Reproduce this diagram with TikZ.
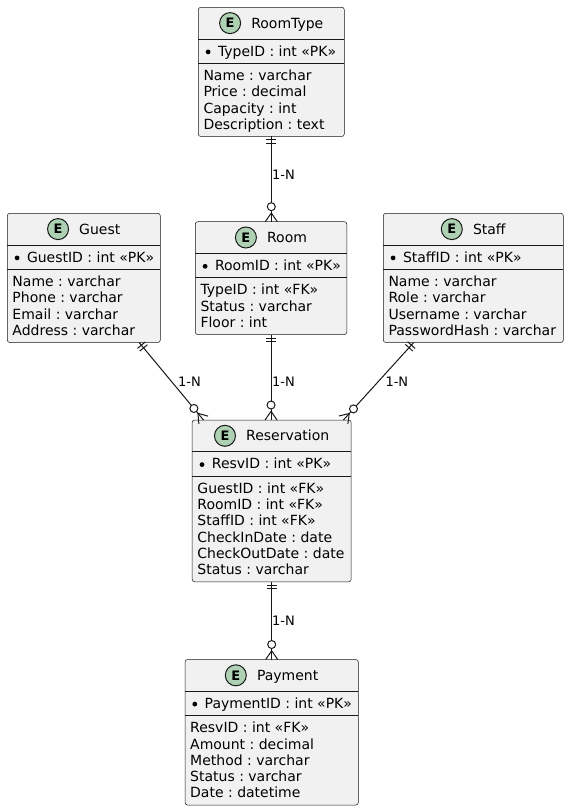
\documentclass[tikz,border=0pt]{standalone}
\usepackage{fontspec}
\setmainfont{DejaVu Sans}
\usetikzlibrary{calc}
\frenchspacing
\definecolor{boxfill}{HTML}{F1F1F1}
\definecolor{boxline}{HTML}{181818}
\definecolor{egreen}{HTML}{ADD1B2}
\tikzset{
 ebox/.style={rectangle, draw=boxline, line width=0.5pt, fill=boxfill, rounded corners=2.5pt, inner sep=0pt, outer sep=0pt},
 hsep/.style={draw=boxline, line width=0.5pt},
 pksep/.style={draw=boxline, line width=1pt},
 etitle/.style={inner sep=0pt, font=\fontsize{14}{16.3}\selectfont\frenchspacing, anchor=base},
 ecirc/.style={circle, draw=boxline, line width=1pt, fill=egreen, minimum size=21pt, inner sep=0pt, font=\fontsize{13}{15}\selectfont\bfseries},
 attr/.style={inner sep=0pt, font=\fontsize{14}{16.3}\selectfont\frenchspacing, anchor=base west},
 lbl/.style={inner sep=0pt, font=\fontsize{13}{15}\selectfont, anchor=west},
 rel/.style={draw=boxline, line width=1pt},
}
\newcommand\entity[8]{%
 \pgfmathsetmacro\eH{64+#7*16.3}%
 \node[ebox, minimum width=#4pt, minimum height=\eH pt, anchor=north west] (#1) at (#2,#3) {};
 \draw[hsep] ($(#1.north west)+(0,31.7)$) -- ($(#1.north east)+(0,31.7)$);
 \draw[pksep] ($(#1.north west)+(0,56)$) -- ($(#1.north east)+(0,56)$);
 \node[etitle] (#1t) at ($(#1.north)+(0,20.9)$) {\hspace*{32pt}#5};
 \node[ecirc] (#1e) at ($(#1t.base west)+(11,-5.1)$) {E};
 \fill[black] ($(#1.north west)+(9.8,44.6)$) circle[radius=2.4pt];
 \node[attr] (#1k) at ($(#1.north west)+(19.5,48.8)$) {#6};
 \foreach \txt [count=\i] in {#8} {
   \node[attr] (#1a\i) at ($(#1.north west)+(5,{68.2+(\i-1)*16.3+5})$) {\txt};
 }
}
\newcommand\erlink[2]{%
 \draw[rel] (#1) -- (#2);
 \draw[rel] ($(#1)!3.5pt!(#2)!5pt!90:(#2)$) -- ($(#1)!3.5pt!(#2)!5pt!-90:(#2)$);
 \draw[rel] ($(#1)!7pt!(#2)!5pt!90:(#2)$) -- ($(#1)!7pt!(#2)!5pt!-90:(#2)$);
 \draw[rel] ($(#2)!8.7pt!(#1)$) -- ($(#2)!6pt!90:(#1)$);
 \draw[rel] ($(#2)!8.7pt!(#1)$) -- ($(#2)!6pt!-90:(#1)$);
 \draw[rel, fill=white] ($(#2)!15pt!(#1)$) circle[radius=4pt];
}
\begin{document}
\begin{tikzpicture}[x=1pt, y=-1pt]
\fill[white] (0,0) rectangle (569,810);
\useasboundingbox (0,0) rectangle (569,810);

\entity{roomtype}{198.3}{7.3}{146}{RoomType}{TypeID : int «PK»}{4}{Name : varchar, Price : decimal, Capacity : int, Description : text}
\entity{guest}{7.3}{213.3}{153}{Guest}{GuestID : int «PK»}{4}{Name : varchar, Phone : varchar, Email : varchar, Address : varchar}
\entity{room}{195.3}{221.7}{151.5}{Room}{RoomID : int «PK»}{3}{TypeID : int «FK», Status : varchar, Floor : int}
\entity{staff}{383.3}{213.3}{180}{Staff}{StaffID : int «PK»}{4}{Name : varchar, Role : varchar, Username : varchar, PasswordHash : varchar}
\entity{resv}{192.2}{420}{159}{Reservation}{ResvID : int «PK»}{6}{GuestID : int «FK», RoomID : int «FK», StaffID : int «FK», CheckInDate : date, CheckOutDate : date, Status : varchar}
\entity{payment}{185}{659.5}{173.3}{Payment}{PaymentID : int «PK»}{5}{ResvID : int «FK», Amount : decimal, Method : varchar, Status : varchar, Date : datetime}

\coordinate (c1a) at (roomtype.south);
\coordinate (c1b) at (roomtype.south |- room.north);
\coordinate (c2a) at ($(guest.south west)+(131.8,0)$);
\coordinate (c2b) at ($(resv.north west)+(11.3,0)$);
\coordinate (c3a) at (room.south);
\coordinate (c3b) at (room.south |- resv.north);
\coordinate (c4a) at ($(staff.south west)+(30.4,0)$);
\coordinate (c4b) at ($(resv.north west)+(151.2,0)$);
\coordinate (c5a) at (resv.south);
\coordinate (c5b) at (resv.south |- payment.north);

\erlink{c1a}{c1b}
\erlink{c2a}{c2b}
\erlink{c3a}{c3b}
\erlink{c4a}{c4b}
\erlink{c5a}{c5b}

\node[lbl] (l1) at (271.9,175) {1-N};
\node[lbl] (l2) at (271.9,381.5) {1-N};
\node[lbl] (l3) at (177.9,381.7) {1-N};
\node[lbl] (l4) at (385.3,381.7) {1-N};
\node[lbl] (l5) at (271.9,620.7) {1-N};
\end{tikzpicture}
\end{document}
